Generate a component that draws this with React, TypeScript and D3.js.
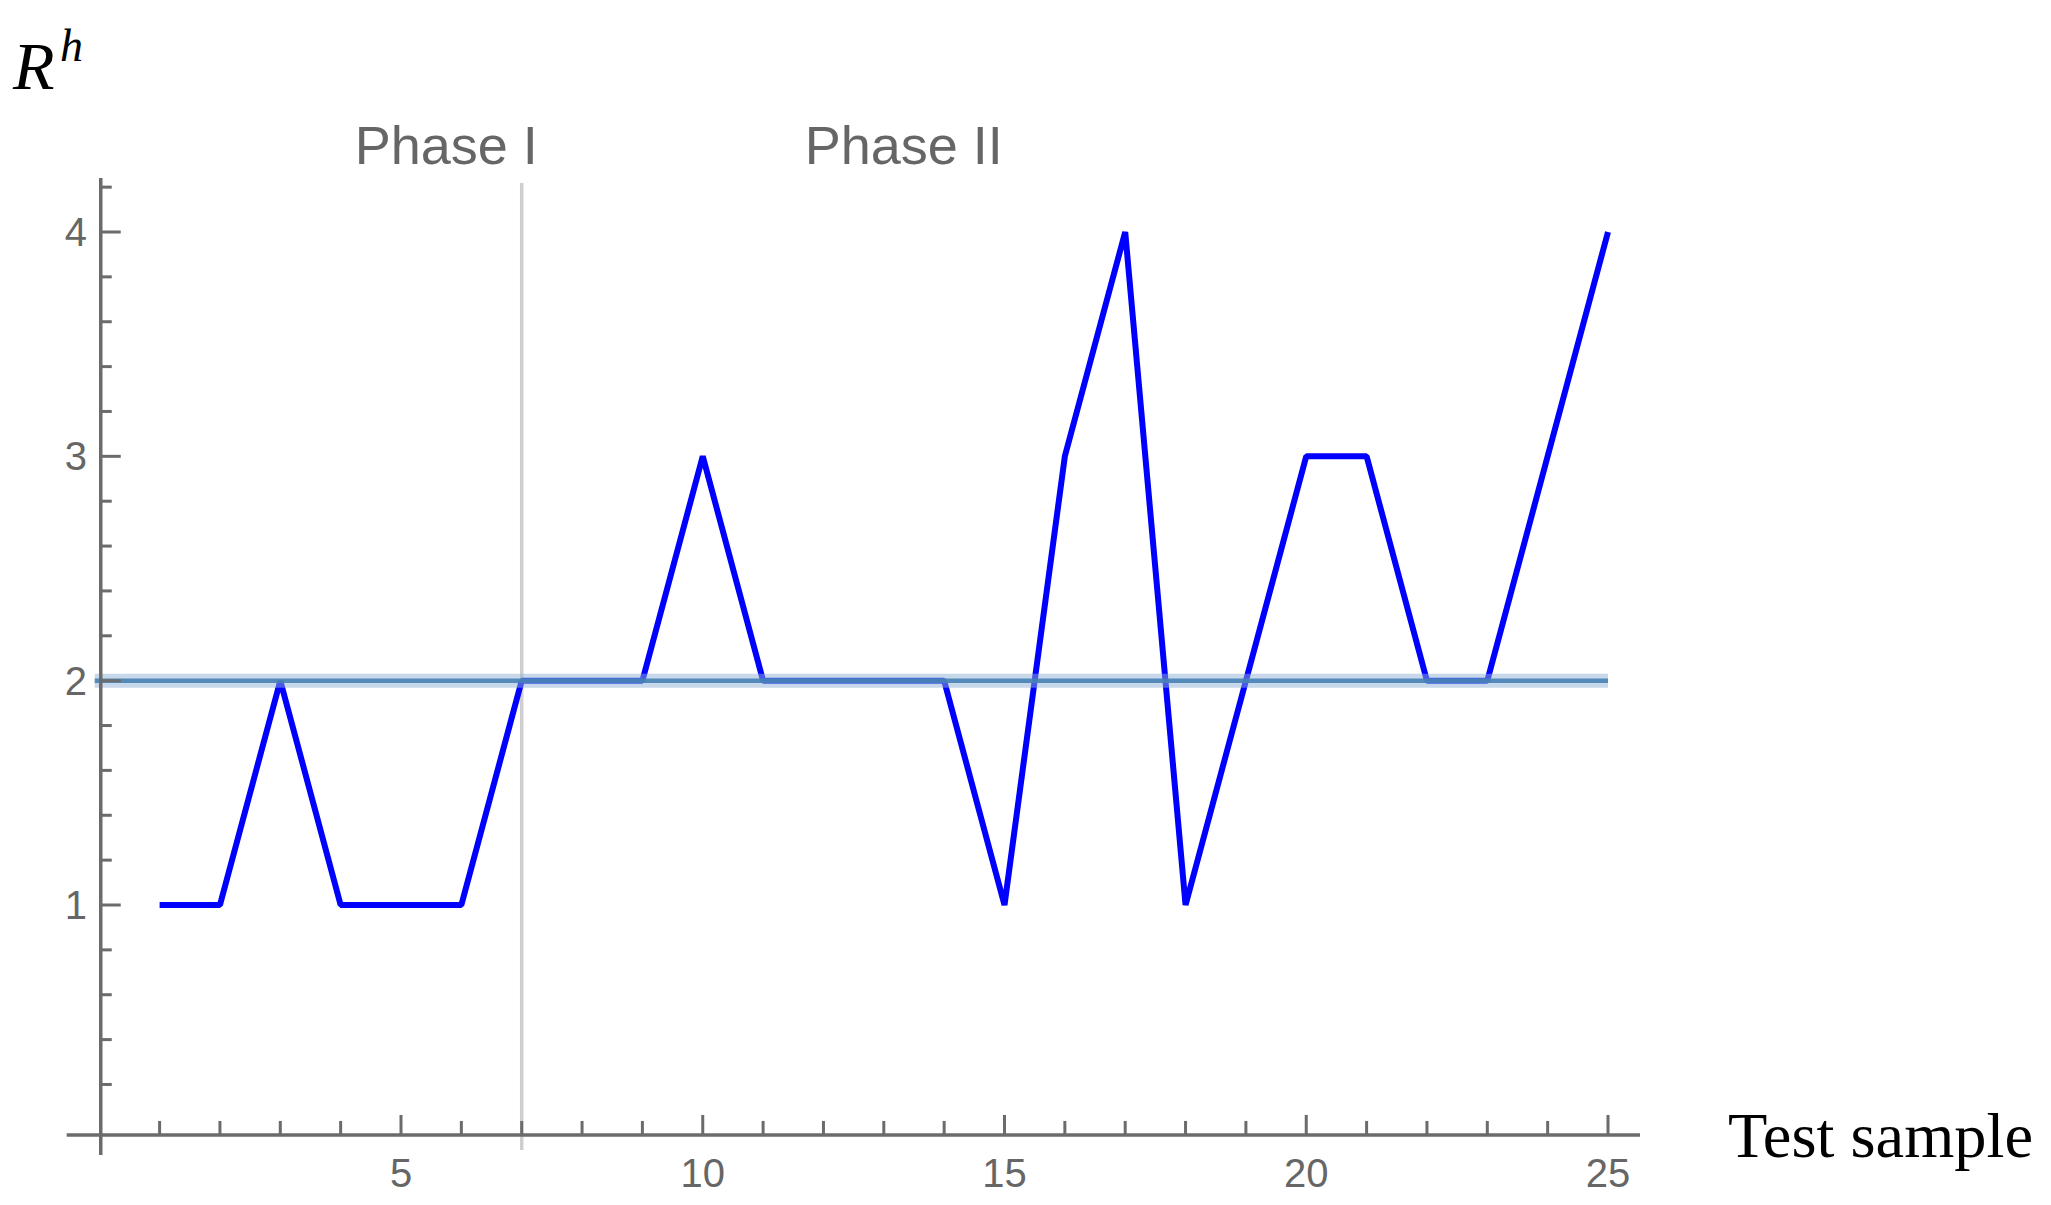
import React, { useEffect } from "react";
import * as d3 from "d3";

// ---- data ----
const samples = [1, 2, 3, 4, 5, 6, 7, 8, 9, 10, 11, 12, 13, 14, 15, 16, 17, 18, 19, 20, 21, 22, 23, 24, 25];
const rh = [1, 1, 2, 1, 1, 1, 2, 2, 2, 3, 2, 2, 2, 2, 1, 3, 4, 1, 2, 3, 3, 2, 2, 3, 4];
const threshold = 2;
const phaseBoundary = 7;
const xMajorTicks = [5, 10, 15, 20, 25];
const xMinorTicks = [1, 2, 3, 4, 6, 7, 8, 9, 11, 12, 13, 14, 16, 17, 18, 19, 21, 22, 23, 24];
const yMajorTicks = [1, 2, 3, 4];
const yMinorTicks = [0.2, 0.4, 0.6, 0.8, 1.2, 1.4, 1.6, 1.8, 2.2, 2.4, 2.6, 2.8, 3.2, 3.4, 3.6, 3.8, 4.2];
const phaseLabels = [
  { text: "Phase I", at: 5.75 },
  { text: "Phase II", at: 13.33 },
];

const W = 2051;
const H = 1205;

export default function App() {
  useEffect(() => {
    document.body.style.margin = "0";
  }, []);

  const x = d3.scaleLinear().domain([5, 25]).range([401, 1608]);
  const y = d3.scaleLinear().domain([1, 4]).range([905, 232]);

  const axisColor = "#6b6b6b";
  const labelColor = "#666666";
  const x0 = x(0) + 1.5;
  const yAxisY = y(-0.025);

  const line = d3
    .line<number>()
    .x((_, i) => x(samples[i]))
    .y((d) => y(d));

  return (
    <svg
      width={W}
      height={H}
      style={{ position: "absolute", left: 0, top: 0, background: "#fff" }}
    >
      {/* phase boundary */}
      <line
        x1={x(phaseBoundary)}
        x2={x(phaseBoundary)}
        y1={183}
        y2={yAxisY + 15}
        stroke="#cfcfcf"
        strokeWidth={3.5}
      />

      {/* data line */}
      <path
        d={line(rh) || ""}
        fill="none"
        stroke="#0000ff"
        strokeWidth={6}
        strokeLinejoin="bevel"
      />

      {/* threshold line */}
      <line
        x1={x0 - 6}
        x2={x(25)}
        y1={y(threshold)}
        y2={y(threshold)}
        stroke="#8fb2d6"
        strokeOpacity={0.5}
        strokeWidth={14}
      />
      <line
        x1={x0 - 6}
        x2={x(25)}
        y1={y(threshold)}
        y2={y(threshold)}
        stroke="#4682b4"
        strokeOpacity={0.9}
        strokeWidth={4.5}
      />

      {/* x axis */}
      <line
        x1={x(-0.54)}
        x2={x(25.53)}
        y1={yAxisY}
        y2={yAxisY}
        stroke={axisColor}
        strokeWidth={3.5}
      />
      {xMinorTicks.map((t) => (
        <line
          key={"xm" + t}
          x1={x(t)}
          x2={x(t)}
          y1={yAxisY}
          y2={yAxisY - 14}
          stroke={axisColor}
          strokeWidth={3}
        />
      ))}
      {xMajorTicks.map((t) => (
        <g key={"xM" + t}>
          <line
            x1={x(t)}
            x2={x(t)}
            y1={yAxisY}
            y2={yAxisY - 20}
            stroke={axisColor}
            strokeWidth={3}
          />
          <text
            x={x(t)}
            y={1187}
            textAnchor="middle"
            fontFamily="Liberation Sans, Arial, sans-serif"
            fontSize={40}
            fill={labelColor}
          >
            {t}
          </text>
        </g>
      ))}

      {/* y axis */}
      <line
        x1={x0}
        x2={x0}
        y1={178}
        y2={yAxisY + 20}
        stroke={axisColor}
        strokeWidth={3.5}
      />
      {yMinorTicks.map((t) => (
        <line
          key={"ym" + t}
          x1={x0}
          x2={x0 + 11}
          y1={y(t)}
          y2={y(t)}
          stroke={axisColor}
          strokeWidth={3}
        />
      ))}
      {yMajorTicks.map((t) => (
        <g key={"yM" + t}>
          <line
            x1={x0}
            x2={x0 + 20}
            y1={y(t)}
            y2={y(t)}
            stroke={axisColor}
            strokeWidth={3}
          />
          <text
            x={87}
            y={y(t) + 14}
            textAnchor="end"
            fontFamily="Liberation Sans, Arial, sans-serif"
            fontSize={40}
            fill={labelColor}
          >
            {t}
          </text>
        </g>
      ))}

      {/* phase labels */}
      {phaseLabels.map((p) => (
        <text
          key={p.text}
          x={x(p.at)}
          y={164}
          textAnchor="middle"
          fontFamily="Liberation Sans, Arial, sans-serif"
          fontSize={54}
          fill={labelColor}
        >
          {p.text}
        </text>
      ))}

      {/* axis titles */}
      <text
        x={13}
        y={89}
        fontFamily="Liberation Serif, Times New Roman, serif"
        fontStyle="italic"
        fontSize={68}
        fill="#000"
      >
        R
      </text>
      <text
        x={60}
        y={61}
        fontFamily="Liberation Serif, Times New Roman, serif"
        fontStyle="italic"
        fontSize={46}
        fill="#000"
      >
        h
      </text>
      <text
        x={1728}
        y={1157}
        fontFamily="Liberation Serif, Times New Roman, serif"
        fontSize={63}
        textLength={305}
        lengthAdjust="spacingAndGlyphs"
        fill="#000"
      >
        Test sample
      </text>
    </svg>
  );
}
